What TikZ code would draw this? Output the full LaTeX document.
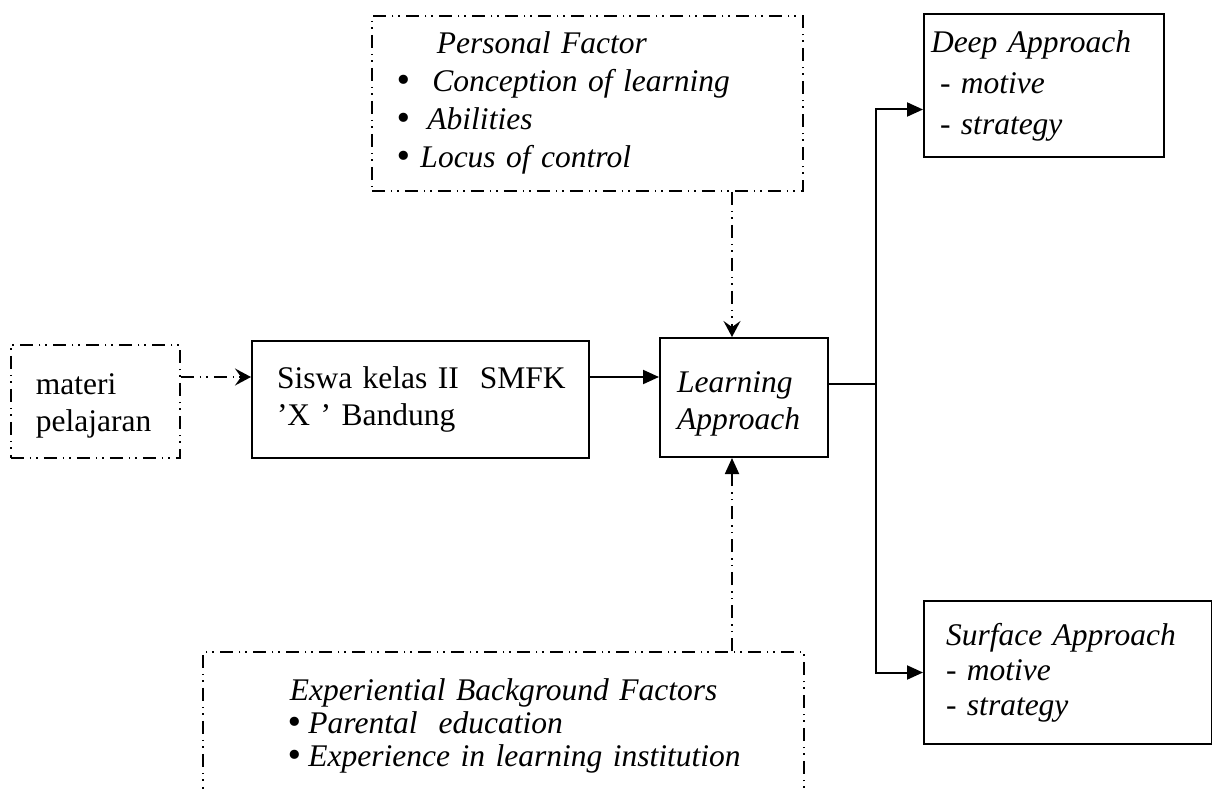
\documentclass[tikz,border=0pt]{standalone}
\usepackage{fontspec}
\setmainfont{Liberation Serif}
\newfontfamily\bulletfont{DejaVu Sans}
\newcommand{\bul}{{\upshape\bulletfont •}}
\usetikzlibrary{positioning,arrows.meta}

\begin{document}
\begin{tikzpicture}[x=1pt,y=-1pt,
  box/.style={draw,line width=2pt,anchor=north west,align=left,inner ysep=0pt,font=\fontsize{31.5}{37}\selectfont},
  ibox/.style={box,font=\fontsize{31.5}{37}\selectfont\itshape},
  dline/.style={line width=1.8pt,dash pattern=on 13pt off 6pt on 1.5pt off 5pt on 1.5pt off 6pt},
  dbox/.style={box,dline}, dibox/.style={ibox,dline},
  flow/.style={line width=2pt,-{Triangle[length=16pt,width=14pt]}},
  dflow/.style={dline,-{Stealth[length=16pt,width=17pt,inset=6pt]}}]
\useasboundingbox (0,0) rectangle (1212,789);
\clip (0,0) rectangle (1212,789);
\node[dbox,text width=119pt,inner xsep=25pt,minimum height=113pt] (materi) at (10,344) {\rule{0pt}{30pt}materi\\pelajaran};
\node[box,text width=297pt,inner xsep=20pt,minimum height=117pt] (siswa) at (251,340) {\hspace*{5pt}\mbox{Siswa kelas II\ \ SMFK}\\\hspace*{5pt}'X ' Bandung};
\node[ibox,text width=134pt,inner xsep=17pt,minimum height=119pt] (learn) at (659,337) {\rule{0pt}{33pt}Learning\\Approach};
\node[ibox,text width=226pt,inner xsep=7pt,minimum height=143pt,font=\fontsize{31.5}{41}\selectfont\itshape] (deep) at (923,13) {Deep Approach\\\hspace*{9pt}- motive\\\hspace*{9pt}- strategy};
\node[ibox,text width=244pt,inner xsep=22pt,minimum height=143pt,font=\fontsize{31.5}{35}\selectfont\itshape] (surface) at (923,600) {Surface Approach\\- motive\\- strategy};
\node[dibox,text width=385pt,inner xsep=23pt,minimum height=175pt,font=\fontsize{31.5}{38}\selectfont\itshape] (personal) at (371,15) {\hspace*{42pt}Personal Factor\\\bul\hspace{19pt}Conception of learning\\\bul\hspace{14pt}Abilities\\\bul\hspace{7pt}Locus of control};
\node[dibox,text width=561pt,inner xsep=20pt,minimum height=148pt,font=\fontsize{31.5}{33}\selectfont\itshape] (expbg) at (202,651) {\hspace*{67pt}Experiential Background Factors\\\hspace*{63pt}\bul\hspace{4pt}Parental\ \ education\\\hspace*{63pt}\bul\hspace{4pt}Experience in learning institution};
\coordinate (ya) at (0,377);
\coordinate (split) at (876,384);
\coordinate (xv) at (732,0);
\draw[dflow] (materi.east |- ya) -- (siswa.west |- ya);
\draw[flow] (siswa.east |- ya) -- (learn.west |- ya);
\draw[line width=2pt] (learn.east |- split) -- (split);
\draw[flow] (split) |- ([yshift=-24pt]deep.west);
\draw[flow] (split) |- (surface.west);
\draw[dflow] (personal.south -| xv) -- (learn.north -| xv);
\draw[dline,-{Triangle[length=16pt,width=14pt]}] (expbg.north -| xv) -- (learn.south -| xv);
\end{tikzpicture}
\end{document}
